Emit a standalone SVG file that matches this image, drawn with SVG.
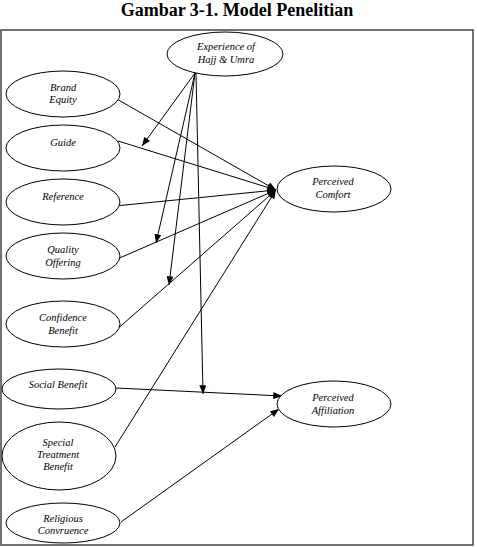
<svg xmlns="http://www.w3.org/2000/svg" width="477" height="547" viewBox="0 0 477 547">
<defs>
<style>
.n ellipse{fill:#fff;stroke:#000;stroke-width:1}
.n text{font-family:"Liberation Serif","Times New Roman",serif;font-style:italic;font-size:10.5px;text-anchor:middle;fill:#000}
.c line{stroke:#000;stroke-width:1;marker-end:url(#arr)}
.title{font-family:"Liberation Serif","Times New Roman",serif;font-weight:bold;font-size:18px;text-anchor:middle;fill:#000}
</style>
<marker id="arr" viewBox="0 0 10 8" refX="10" refY="4" markerWidth="10" markerHeight="7" orient="auto" markerUnits="userSpaceOnUse"><path d="M0,0 L10,4 L0,8 z" fill="#000"/></marker>
</defs>
<rect width="477" height="547" fill="#fff"/>
<text class="title" x="237" y="16">Gambar 3-1. Model Penelitian</text>
<rect x="1" y="30" width="472" height="515" fill="none" stroke="#444" stroke-width="1.5"/>
<g class="c" id="connectors">
<line x1="115" y1="98" x2="276" y2="190"/>
<line x1="118" y1="141" x2="276" y2="190"/>
<line x1="115" y1="206" x2="276" y2="190"/>
<line x1="115" y1="260" x2="276" y2="190"/>
<line x1="115" y1="331" x2="276" y2="190"/>
<line x1="115" y1="447" x2="276" y2="190"/>
<line x1="116" y1="388" x2="282" y2="396"/>
<line x1="121" y1="522" x2="279" y2="409"/>
<line x1="195" y1="73" x2="142" y2="146"/>
<line x1="195" y1="73" x2="156" y2="243"/>
<line x1="195" y1="73" x2="169" y2="285"/>
<line x1="196" y1="73" x2="203" y2="394"/>
</g>
<g class="n" id="experience"><ellipse cx="225" cy="54" rx="58" ry="22"/><text x="226" y="50">Experience of</text><text x="226" y="63">Hajj &amp; Umra</text></g>
<g class="n" id="brand-equity"><ellipse cx="63" cy="94" rx="57" ry="23"/><text x="63" y="91">Brand</text><text x="63" y="103">Equity</text></g>
<g class="n" id="guide"><ellipse cx="63" cy="148" rx="57" ry="23"/><text x="63" y="146">Guide</text></g>
<g class="n" id="reference"><ellipse cx="63" cy="202" rx="57" ry="23"/><text x="63" y="200">Reference</text></g>
<g class="n" id="quality-offering"><ellipse cx="63" cy="256" rx="57" ry="23"/><text x="63" y="253">Quality</text><text x="63" y="266">Offering</text></g>
<g class="n" id="confidence-benefit"><ellipse cx="63" cy="324" rx="57" ry="23"/><text x="63" y="321">Confidence</text><text x="63" y="334">Benefit</text></g>
<g class="n" id="social-benefit"><ellipse cx="59" cy="389" rx="57" ry="20"/><text x="58" y="388">Social Benefit</text></g>
<g class="n" id="special-treatment-benefit"><ellipse cx="59" cy="456" rx="57" ry="34"/><text x="58" y="446">Special</text><text x="58" y="458">Treatment</text><text x="58" y="470">Benefit</text></g>
<g class="n" id="religious-congruence"><ellipse cx="63" cy="523" rx="57" ry="20"/><text x="63" y="522">Religious</text><text x="63" y="534">Convruence</text></g>
<g class="n" id="perceived-comfort"><ellipse cx="334" cy="189" rx="57" ry="23"/><text x="333" y="185">Perceived</text><text x="333" y="198">Comfort</text></g>
<g class="n" id="perceived-affiliation"><ellipse cx="334" cy="404" rx="57" ry="23"/><text x="333" y="401">Perceived</text><text x="333" y="414">Affiliation</text></g>
</svg>
